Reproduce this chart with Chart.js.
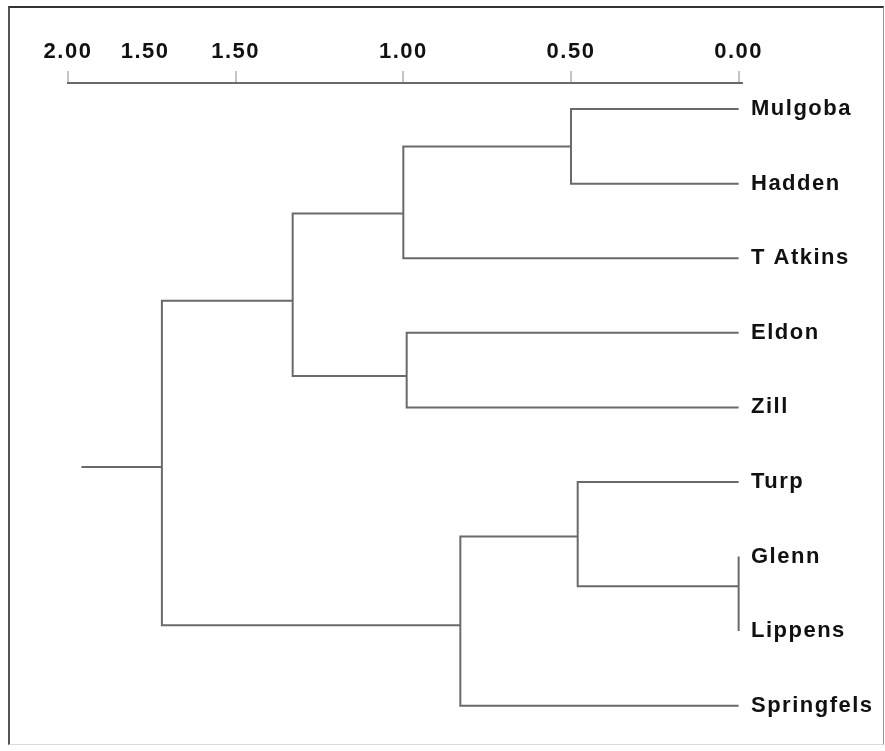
<!DOCTYPE html>
<html>
<head>
<meta charset="utf-8">
<script src="https://cdn.jsdelivr.net/npm/chart.js@4.4.1/dist/chart.umd.min.js"></script>
<style>
  body { margin: 0; background: #fff; }
  #wrap { position: relative; width: 885px; height: 751px; }
  #frame { position: absolute; left: 8px; top: 6px; width: 873px; height: 736px;
           border-top: 2px solid #333; border-left: 2px solid #555;
           border-right: 1px solid #999; border-bottom: 1px solid #ddd; }
  #c { position: absolute; left: 0; top: 0; }
</style>
</head>
<body>
<div id="wrap">
  <div id="frame"></div>
  <canvas id="c" width="885" height="751"></canvas>
</div>
<script>
// leaves, top to bottom
const leaves = ['Mulgoba', 'Hadden', 'T Atkins', 'Eldon', 'Zill', 'Turp', 'Glenn', 'Lippens', 'Springfels'];
const leafPos = [0, 1, 2, 3, 4, 5, 6, 7, 8];

const nodeNames  = ['MH', 'MHT', 'EZ', 'C1', 'GL', 'TGL', 'C2', 'root'];
const nodeLeft   = ['Mulgoba', 'MH', 'Eldon', 'MHT', 'Glenn', 'Turp', 'TGL', 'C1'];
const nodeRight  = ['Hadden', 'T Atkins', 'Zill', 'EZ', 'Lippens', 'GL', 'Springfels', 'C2'];
const nodeHeight = [0.50, 1.00, 0.99, 1.33, 0.00, 0.48, 0.83, 1.72];
const nodePos    = [0.50, 1.40, 3.58, 2.57, 6.40, 5.73, 6.92, 4.80];
const rootStart = 1.96;

// distance axis (labels as printed)
const tickValues = [2.00, 1.77, 1.50, 1.00, 0.50, 0.00];
const tickLabels = ['2.00', '1.50', '1.50', '1.00', '0.50', '0.00'];

function height(name) {
    const i = nodeNames.indexOf(name);
    return i >= 0 ? nodeHeight[i] : 0;
}
function pos(name) {
    const i = nodeNames.indexOf(name);
    return i >= 0 ? nodePos[i] : leafPos[leaves.indexOf(name)];
}

const lineColor = '#6a6a6a';
const datasets = nodeNames.map((n, i) => ({
    data: [
        { x: height(nodeLeft[i]), y: pos(nodeLeft[i]) },
        { x: nodeHeight[i], y: pos(nodeLeft[i]) },
        { x: nodeHeight[i], y: pos(nodeRight[i]) },
        { x: height(nodeRight[i]), y: pos(nodeRight[i]) }
    ],
    showLine: true, borderColor: lineColor, borderWidth: 2, pointRadius: 0, tension: 0, fill: false
}));
datasets.push({
    data: [{ x: rootStart, y: pos('root') }, { x: height('root'), y: pos('root') }],
    showLine: true, borderColor: lineColor, borderWidth: 2, pointRadius: 0, fill: false
});

const spacing = { id: 'spacing',
    beforeLayout(chart) { chart.ctx.letterSpacing = '1.5px'; },
    beforeDraw(chart) { chart.ctx.letterSpacing = '1.5px'; } };

const font = { family: "'Liberation Sans', Arial, sans-serif", weight: 'bold', size: 22 };

new Chart(document.getElementById('c'), {
    type: 'scatter',
    data: { datasets },
    plugins: [spacing],
    options: {
        responsive: false, animation: false,
        layout: { padding: { left: 68, top: 0, right: 0, bottom: 6 } },
        plugins: { legend: { display: false }, tooltip: { enabled: false } },
        scales: {
            x: {
                type: 'linear', position: 'top', reverse: true, min: -0.01, max: 2.0,
                afterBuildTicks: s => { s.ticks = tickValues.map(v => ({ value: v })); },
                afterFit: s => { s.height = 83; },
                grid: { drawOnChartArea: false, drawTicks: true, tickLength: 12, lineWidth: 2,
                        color: c => c.index === 1 ? 'rgba(0,0,0,0)' : '#c4c4c4' },
                border: { display: true, color: '#6a6a6a', width: 2 },
                ticks: { font, color: '#111', padding: 6, maxRotation: 0, autoSkip: false,
                         callback: (v, i) => tickLabels[i] }
            },
            y: {
                type: 'linear', position: 'right', reverse: true, min: -0.35, max: 8.31,
                afterBuildTicks: s => { s.ticks = leafPos.map(v => ({ value: v })); },
                afterFit: s => { s.width = 143; },
                grid: { display: false, drawTicks: false },
                border: { display: false },
                ticks: { font, color: '#111', padding: 9, autoSkip: false,
                         callback: v => leaves[leafPos.indexOf(v)] }
            }
        }
    }
});
</script>
</body>
</html>
